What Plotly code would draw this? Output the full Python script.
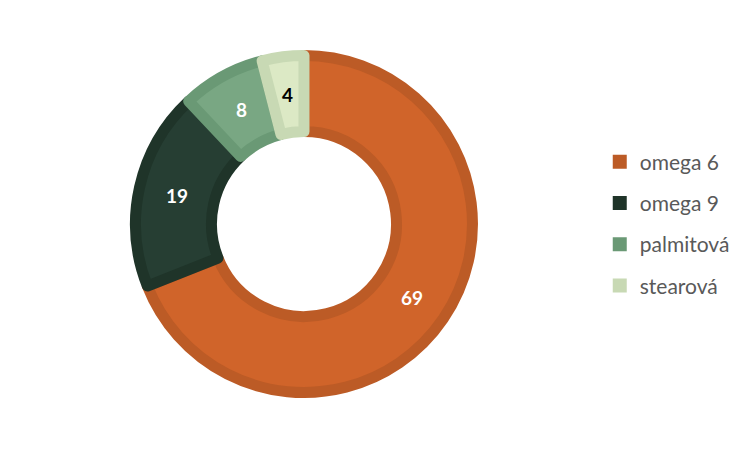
import math
import plotly.graph_objects as go

labels = ["omega 6", "omega 9", "palmitová", "stearová"]
values = [69, 19, 8, 4]
fill_colors = ["#D0642A", "#263E33", "#79A783", "#DCE9C5"]
border_colors = ["#BC5B26", "#1F3429", "#6A9975", "#C8D9B4"]
text_colors = ["white", "white", "white", "black"]

W, H = 750, 450
dom_x = [0.17, 0.6193]
dom_y = [0.1456, 0.8944]
hole = 0.549

fig = go.Figure()
fig.add_trace(go.Pie(
    labels=labels, values=values, sort=False, direction="clockwise", rotation=0,
    hole=hole,
    marker=dict(colors=fill_colors, line=dict(color=border_colors, width=11)),
    textinfo="none",
    domain=dict(x=dom_x, y=dom_y),
    showlegend=False, hoverinfo="label+value",
))

# value labels at mid-ring of each slice, angles computed from the data
total = sum(values)
r_out = (dom_x[1] - dom_x[0]) * W / 2
r_mid = (r_out + r_out * hole) / 2
cx = (dom_x[0] + dom_x[1]) / 2
cy = (dom_y[0] + dom_y[1]) / 2
cum = 0
for v, tc in zip(values, text_colors):
    theta = 2 * math.pi * (cum + v / 2) / total
    cum += v
    fig.add_annotation(
        x=cx + r_mid * math.sin(theta) / W, y=cy + r_mid * math.cos(theta) / H,
        xref="paper", yref="paper", xanchor="center", yanchor="middle",
        text=str(v), showarrow=False,
        font=dict(family="Lato", size=19, color=tc, weight="bold"),
    )

for i, lab in enumerate(labels):
    fig.add_trace(go.Scatter(
        x=[None], y=[None], mode="markers", name=lab, legendgroup=lab,
        marker=dict(symbol="square", size=14, color=border_colors[i]),
    ))

fig.update_layout(
    width=W, height=H, margin=dict(l=0, r=0, t=0, b=0),
    paper_bgcolor="white", plot_bgcolor="white",
    xaxis=dict(visible=False), yaxis=dict(visible=False),
    legend=dict(x=0.789, y=0.52, xanchor="left", yanchor="middle",
                font=dict(family="Lato", size=21, color="#595959"),
                tracegroupgap=11, itemwidth=30),
)
fig.write_html("out.html")
